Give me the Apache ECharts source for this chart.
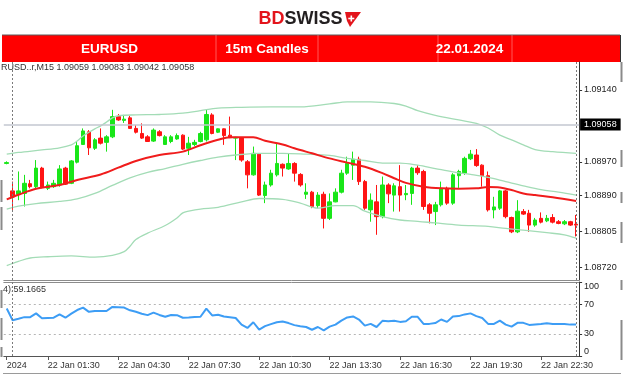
<!DOCTYPE html>
<html><head><meta charset="utf-8">
<script src="https://cdn.jsdelivr.net/npm/echarts@6/dist/echarts.min.js"></script>
<style>html,body{margin:0;padding:0;background:#fff}#c{width:624px;height:380px}</style>
</head><body><div id="c"></div>
<script>
// ---- data (EURUSD M15, 21 Jan 23:45 -> 23 Jan 00:00) ----
const opens = [1.08966,1.08901,1.08893,1.08895,1.08918,1.08911,1.08955,1.08907,1.08911,1.08915,
1.08955,1.08919,1.08969,1.09011,1.09041,1.09002,1.09026,1.09016,1.09029,1.09077,
1.09068,1.09074,1.09049,1.09037,1.09029,1.09019,1.09041,1.09011,1.09018,1.09024,
1.09033,1.09002,1.09011,1.09018,1.09022,1.09081,1.09040,1.09048,1.09033,1.09026,
1.09026,1.08970,1.08939,1.08988,1.08890,1.08915,1.08939,1.08964,1.08953,1.08966,
1.08940,1.08893,1.08898,1.08866,1.08893,1.08836,1.08875,1.08898,1.08943,1.08962,
1.08976,1.08923,1.08856,1.08875,1.08840,1.08915,1.08891,1.08911,1.08892,1.08895,
1.08955,1.08947,1.08868,1.08852,1.08868,1.08907,1.08872,1.08937,1.08943,1.08977,
1.08986,1.08962,1.08937,1.08856,1.08860,1.08901,1.08838,1.08804,1.08852,1.08848,
1.08820,1.08836,1.08830,1.08838,1.08828,1.08823,1.08828,1.08822];
const closes = [1.08968,1.08887,1.08901,1.08919,1.08911,1.08955,1.08910,1.08915,1.08919,1.08953,
1.08917,1.08972,1.09008,1.09043,1.09003,1.09022,1.09014,1.09029,1.09077,1.09069,
1.09071,1.09049,1.09040,1.09026,1.09018,1.09045,1.09032,1.09029,1.09029,1.09032,
1.09000,1.09014,1.09016,1.09037,1.09082,1.09037,1.09048,1.09032,1.09027,1.09028,
1.08974,1.08939,1.08990,1.08891,1.08915,1.08943,1.08966,1.08955,1.08966,1.08943,
1.08915,1.08898,1.08864,1.08891,1.08836,1.08875,1.08898,1.08943,1.08966,1.08976,
1.08923,1.08860,1.08879,1.08840,1.08915,1.08894,1.08913,1.08891,1.08895,1.08955,
1.08944,1.08864,1.08848,1.08868,1.08907,1.08872,1.08939,1.08947,1.08978,1.08988,
1.08961,1.08937,1.08856,1.08863,1.08901,1.08840,1.08804,1.08853,1.08846,1.08820,
1.08832,1.08827,1.08836,1.08827,1.08824,1.08828,1.08820,1.08820];
const highs = [1.08971,1.08923,1.08947,1.08939,1.08927,1.08974,1.08958,1.08923,1.08927,1.08962,
1.08958,1.08974,1.09018,1.09049,1.09045,1.09026,1.09049,1.09033,1.09093,1.09083,
1.09081,1.09079,1.09057,1.09061,1.09033,1.09049,1.09045,1.09033,1.09033,1.09037,
1.09035,1.09029,1.09022,1.09041,1.09093,1.09085,1.09049,1.09049,1.09077,1.09029,
1.09027,1.08974,1.09006,1.08990,1.08923,1.08951,1.09014,1.08966,1.08990,1.08969,
1.08943,1.08919,1.08901,1.08898,1.08899,1.08895,1.08907,1.08951,1.08982,1.08994,
1.08982,1.08927,1.08895,1.08915,1.08935,1.08919,1.08919,1.08962,1.08915,1.08958,
1.08962,1.08951,1.08872,1.08875,1.08923,1.08911,1.08943,1.08951,1.08982,1.08998,
1.09000,1.08964,1.08947,1.08887,1.08903,1.08903,1.08840,1.08879,1.08858,1.08856,
1.08837,1.08850,1.08844,1.08846,1.08832,1.08832,1.08830,1.08844];
const lows = [1.08964,1.08856,1.08879,1.08864,1.08907,1.08907,1.08907,1.08903,1.08908,1.08911,
1.08915,1.08917,1.08966,1.09010,1.08986,1.08998,1.09011,1.08994,1.09026,1.09067,
1.09062,1.09048,1.09037,1.09024,1.09017,1.09017,1.09030,1.09010,1.09014,1.09022,
1.08998,1.08986,1.09007,1.09016,1.09018,1.09035,1.09038,1.09010,1.09026,1.08974,
1.08970,1.08907,1.08937,1.08889,1.08872,1.08911,1.08935,1.08935,1.08951,1.08923,
1.08911,1.08882,1.08860,1.08860,1.08812,1.08832,1.08874,1.08895,1.08939,1.08927,
1.08915,1.08856,1.08828,1.08797,1.08836,1.08872,1.08852,1.08852,1.08879,1.08868,
1.08939,1.08856,1.08824,1.08820,1.08864,1.08868,1.08868,1.08908,1.08939,1.08974,
1.08958,1.08911,1.08852,1.08836,1.08856,1.08836,1.08801,1.08801,1.08844,1.08804,
1.08816,1.08824,1.08827,1.08824,1.08822,1.08820,1.08818,1.08793];

// Indicator readings: [candle index, value]
const bbUpper = [[0,1.08988],[2,1.08992],[6,1.08998],[9,1.09003],[11,1.09010],[12,1.09019],[13,1.09031],[14,1.09040],[15,1.09048],[16,1.09055],[17,1.09064],[18,1.09074],[19,1.09079],[22,1.09081],[26,1.09082],[30,1.09085],[33,1.09091],[36,1.09097],[40,1.09099],[45,1.09100],[50,1.09100],[55,1.09107],[58,1.09112],[62,1.09112],[66,1.09108],[68,1.09102],[70,1.09091],[73,1.09080],[77,1.09069],[80,1.09061],[82,1.09050],[84,1.09033],[86,1.09022],[88,1.09010],[90,1.08999],[93,1.08994],[97,1.08990]];
const bbMiddle = [[0,1.08858],[2,1.08865],[5,1.08871],[9,1.08876],[12,1.08882],[15,1.08895],[18,1.08914],[21,1.08932],[24,1.08945],[27,1.08954],[30,1.08964],[33,1.08973],[36,1.08981],[39,1.08986],[43,1.08990],[47,1.08990],[51,1.08988],[55,1.08985],[58,1.08978],[61,1.08973],[64,1.08967],[67,1.08967],[70,1.08962],[73,1.08954],[76,1.08946],[79,1.08940],[82,1.08933],[85,1.08923],[88,1.08913],[91,1.08904],[94,1.08898],[97,1.08891]];
const bbLower = [[0,1.08724],[2,1.08734],[4,1.08742],[7,1.08745],[11,1.08747],[15,1.08744],[18,1.08748],[20,1.08757],[21,1.08770],[22,1.08786],[24,1.08801],[27,1.08819],[29,1.08837],[30,1.08849],[31,1.08853],[33,1.08858],[36,1.08862],[40,1.08875],[43,1.08883],[47,1.08881],[50,1.08872],[53,1.08860],[56,1.08866],[59,1.08866],[61,1.08853],[64,1.08840],[67,1.08832],[70,1.08829],[73,1.08825],[77,1.08820],[82,1.08817],[85,1.08812],[88,1.08808],[92,1.08802],[95,1.08797],[97,1.08789]];
const maRed = [[0,1.08881],[2,1.08892],[5,1.08906],[9,1.08915],[12,1.08927],[16,1.08940],[19,1.08956],[22,1.08972],[26,1.08986],[30,1.08994],[33,1.09009],[36,1.09022],[38,1.09028],[42,1.09028],[44,1.09020],[47,1.09011],[49,1.09002],[52,1.08990],[55,1.08978],[58,1.08968],[61,1.08958],[64,1.08943],[66,1.08931],[68,1.08920],[71,1.08911],[74,1.08907],[77,1.08906],[80,1.08907],[82,1.08910],[84,1.08909],[86,1.08903],[88,1.08895],[90,1.08891],[93,1.08886],[97,1.08877]];
const rsi = [64.1,48.3,50.3,52.5,52.5,57.6,51.1,51.4,51.7,56.2,
51.7,57.2,62.1,65.4,59.7,60.8,60.8,60.8,66.3,65.9,
65.4,61.7,59.7,57.2,55.2,58.6,55.5,53.0,55.5,55.2,
51.7,52.1,52.8,53.0,64.1,54.8,55.8,53.4,52.5,51.4,
42.4,37.9,45.6,35.5,40.3,43.1,45.6,46.6,44.5,41.7,
40.1,39.2,35.5,39.2,34.6,39.7,42.4,47.9,52.1,53.4,
49.3,41.0,43.4,39.2,47.5,47.0,47.7,46.1,47.0,53.0,
53.0,43.4,43.4,44.5,49.3,46.1,53.4,53.9,56.2,57.6,
53.9,51.4,43.4,43.4,47.9,42.4,39.7,44.8,44.8,42.0,
42.7,43.4,44.2,43.4,43.4,43.4,42.4,42.4];
const rsiLevels = [30, 70];
const rsiTicks = [0, 30, 70, 100];
const priceTicks = [1.08720, 1.08805, 1.08890, 1.08970, 1.09140];
const currentPrice = 1.09058;
const headerOHLC = 'RUSD..r,M15 1.09059 1.09083 1.09042 1.09058';
const rsiLabel = '4):59.1665';
const xTickCats = ['21 Jan 23:45','22 Jan 01:30','22 Jan 04:30','22 Jan 07:30','22 Jan 10:30','22 Jan 13:30','22 Jan 16:30','22 Jan 19:30','22 Jan 22:30'];
const xTickTexts = ['2024','22 Jan 01:30','22 Jan 04:30','22 Jan 07:30','22 Jan 10:30','22 Jan 13:30','22 Jan 16:30','22 Jan 19:30','22 Jan 22:30'];
const markerCats = ['22 Jan 00:00','23 Jan 00:00'];

// categories: 15-minute bars
const categories = [];
for (let i = 0; i < opens.length; i++) {
  const m = 23 * 60 + 45 + 15 * i;
  const d = 21 + Math.floor(m / 1440), mm = m % 1440;
  categories.push(d + ' Jan ' + String(Math.floor(mm / 60)).padStart(2, '0') + ':' + String(mm % 60).padStart(2, '0'));
}
const candles = opens.map((o, i) => [o, closes[i], lows[i], highs[i]]);

const FONT = '"Liberation Sans", Arial, sans-serif';
const isTick = (idx, val) => xTickCats.indexOf(val) >= 0;
const bandLine = (name, data, color, w) => ({
  name, type: 'line', xAxisIndex: 0, yAxisIndex: 0, data, smooth: 0.35,
  showSymbol: false, symbol: 'none', silent: true,
  lineStyle: { color, width: w }
});
const vMarks = (color) => markerCats.map(c => ({ xAxis: c, lineStyle: { color, type: [2, 2], width: 1 }, label: { show: false } }));
const frameSeg = (x, y1, y2) => ({ type: 'line', shape: { x1: x, y1, x2: x, y2 }, style: { stroke: '#8a8a8a', lineWidth: 2 } });

const chart = echarts.init(document.getElementById('c'), null, { renderer: 'canvas' });
chart.setOption({
  animation: false,
  backgroundColor: '#ffffff',
  textStyle: { fontFamily: FONT },
  grid: [
    { left: 3.8, top: 62, width: 575.3, height: 218, outerBoundsMode: 'none' },
    { left: 3.8, top: 282, width: 575.3, height: 74, outerBoundsMode: 'none' }
  ],
  xAxis: [
    { type: 'category', gridIndex: 0, data: categories, boundaryGap: true,
      axisLine: { show: true, lineStyle: { color: '#8c8c8c', width: 1 } },
      axisTick: { show: false }, axisLabel: { show: false }, splitLine: { show: false } },
    { type: 'category', gridIndex: 1, data: categories, boundaryGap: true,
      axisLine: { show: true, lineStyle: { color: '#555', width: 1 } },
      axisTick: { show: true, alignWithLabel: true, interval: isTick, length: 4, lineStyle: { color: '#555' } },
      axisLabel: { show: true, interval: isTick, align: 'left', fontSize: 9, color: '#333', margin: 5, fontFamily: FONT,
        formatter: (v) => xTickTexts[xTickCats.indexOf(v)] },
      splitLine: { show: false } },
    { type: 'category', gridIndex: 1, data: categories, position: 'top', boundaryGap: true,
      axisLine: { show: true, lineStyle: { color: '#8c8c8c', width: 1 } },
      axisTick: { show: false }, axisLabel: { show: false } }
  ],
  yAxis: [
    { type: 'value', gridIndex: 0, position: 'right', min: 1.0868991, max: 1.0920633,
      splitLine: { show: false },
      axisLine: { show: true, lineStyle: { color: '#333', width: 1 } },
      axisTick: { show: true, customValues: priceTicks, length: 3, lineStyle: { color: '#333' } },
      axisLabel: { show: true, customValues: priceTicks, formatter: (v) => v.toFixed(5), fontSize: 9, color: '#222', margin: 5, fontFamily: FONT } },
    { type: 'value', gridIndex: 1, position: 'right', min: 0, max: 100,
      splitLine: { show: false },
      axisLine: { show: true, lineStyle: { color: '#333', width: 1 } },
      axisTick: { show: true, customValues: rsiTicks, length: 3, lineStyle: { color: '#333' } },
      axisLabel: { show: true, customValues: rsiTicks, fontSize: 9, color: '#222', margin: 5, fontFamily: FONT,
        verticalAlignMinLabel: 'bottom', verticalAlignMaxLabel: 'top' } }
  ],
  series: [
    bandLine('BB upper', bbUpper, '#a3dcb6', 1.3),
    bandLine('BB middle', bbMiddle, '#a3dcb6', 1.3),
    bandLine('BB lower', bbLower, '#a3dcb6', 1.3),
    { name: 'EURUSD', type: 'candlestick', xAxisIndex: 0, yAxisIndex: 0, data: candles, barWidth: 4,
      itemStyle: { color: '#19e619', color0: '#ff1414', borderColor: '#19e619', borderColor0: '#ff1414', borderWidth: 1 },
      markLine: { silent: true, symbol: 'none', animation: false, precision: 5,
        data: [
          { yAxis: currentPrice, lineStyle: { color: '#c3c7d1', width: 1.5, type: 'solid' },
            label: { show: true, position: 'end', distance: 1, formatter: currentPrice.toFixed(5), backgroundColor: '#000', color: '#fff',
              padding: [2, 4, 1, 4], fontSize: 9, fontFamily: FONT } }
        ].concat(vMarks('#7a7a7a')) } },
    bandLine('MA', maRed, '#f01c1c', 2),
    { name: 'RSI', type: 'line', xAxisIndex: 1, yAxisIndex: 1, data: rsi, showSymbol: false, symbol: 'none',
      lineStyle: { color: '#3d9df5', width: 2 },
      markLine: { silent: true, symbol: 'none', animation: false, precision: 2,
        data: rsiLevels.map(v => ({ yAxis: v, lineStyle: { color: '#b5b5b5', type: [2, 3], width: 1 }, label: { show: false } }))
          .concat(vMarks('#7a7a7a')) } }
  ],
  graphic: [
    { type: 'text', x: 300.5, y: 19, style: { text: '{a|BD}{b|SWISS}', textAlign: 'center', textVerticalAlign: 'middle',
        rich: { a: { fill: '#e3141b', font: 'bold 18px ' + FONT }, b: { fill: '#231f20', font: 'bold 18px ' + FONT } } } },
    { type: 'polygon', shape: { points: [[345, 12], [361, 12], [350, 27], [347, 21]] }, style: { fill: '#e3141b' } },
    { type: 'rect', shape: { x: 350.5, y: 15.5, width: 1.6, height: 6 }, style: { fill: '#fff' } },
    { type: 'rect', shape: { x: 348.3, y: 17.7, width: 6, height: 1.6 }, style: { fill: '#fff' } },
    { type: 'rect', shape: { x: 2, y: 35, width: 618, height: 27 }, style: { fill: '#ff0000' } },
    { type: 'line', shape: { x1: 2, y1: 35, x2: 620, y2: 35 }, style: { stroke: '#5a5a5a', lineWidth: 1 } },
    { type: 'line', shape: { x1: 620.5, y1: 35, x2: 620.5, y2: 62 }, style: { stroke: '#333', lineWidth: 1 } },
    { type: 'line', shape: { x1: 216, y1: 35, x2: 216, y2: 62 }, style: { stroke: 'rgba(255,255,255,0.35)', lineWidth: 1 } },
    { type: 'line', shape: { x1: 318, y1: 35, x2: 318, y2: 62 }, style: { stroke: 'rgba(255,255,255,0.35)', lineWidth: 1 } },
    { type: 'line', shape: { x1: 438, y1: 35, x2: 438, y2: 62 }, style: { stroke: 'rgba(255,255,255,0.35)', lineWidth: 1 } },
    { type: 'line', shape: { x1: 512, y1: 35, x2: 512, y2: 62 }, style: { stroke: 'rgba(255,255,255,0.35)', lineWidth: 1 } },
    { type: 'text', x: 109.5, y: 49, style: { text: 'EURUSD', textAlign: 'center', textVerticalAlign: 'middle', fill: '#fff', font: 'bold 13.5px ' + FONT } },
    { type: 'text', x: 267, y: 49, style: { text: '15m Candles', textAlign: 'center', textVerticalAlign: 'middle', fill: '#fff', font: 'bold 13.5px ' + FONT } },
    { type: 'text', x: 469.5, y: 49, style: { text: '22.01.2024', textAlign: 'center', textVerticalAlign: 'middle', fill: '#fff', font: 'bold 13.5px ' + FONT } },
    { type: 'text', x: 1, y: 67.5, style: { text: headerOHLC, textVerticalAlign: 'middle', fill: '#333', font: '9px ' + FONT } },
    { type: 'text', x: 3, y: 290, style: { text: rsiLabel, textVerticalAlign: 'middle', fill: '#333', font: '9px ' + FONT } },
    { type: 'line', shape: { x1: 3, y1: 373.5, x2: 621, y2: 373.5 }, style: { stroke: '#9a9a9a', lineWidth: 1 } },
    frameSeg(1.5, 180, 202), frameSeg(1.5, 207, 230), frameSeg(1.5, 290, 308), frameSeg(1.5, 318, 340), frameSeg(1.5, 347, 357),
    frameSeg(621.5, 62, 82), frameSeg(621.5, 150, 167), frameSeg(621.5, 192, 203), frameSeg(621.5, 222, 243), frameSeg(621.5, 280, 290), frameSeg(621.5, 320, 360)
  ]
});
</script></body></html>
